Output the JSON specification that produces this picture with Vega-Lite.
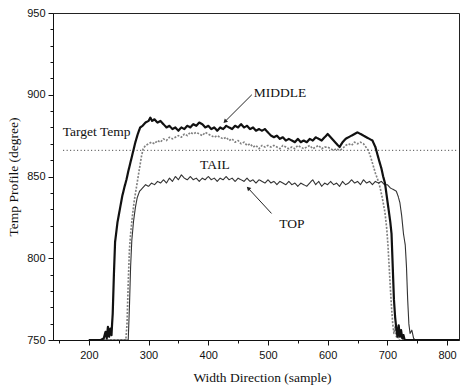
{
  "$schema": "https://vega.github.io/schema/vega-lite/v6.json",
  "autosize": "none",
  "width": 406,
  "height": 327,
  "padding": {"left": 53, "top": 13, "right": 1, "bottom": 48},
  "background": "white",
  "config": {
    "view": {"stroke": "#222", "strokeWidth": 1},
    "axis": {"grid": false, "domainColor": "#111", "tickColor": "#111", "labelColor": "#111", "titleColor": "#111", "labelFont": "Liberation Sans", "labelFontSize": 11, "titleFont": "Liberation Serif", "titleFontSize": 13.5, "titleFontWeight": "normal", "labelOverlap": false, "labelBound": false}
  },
  "datasets": {
    "curves": [
      {"s":"TAIL","x":200,"y":750},{"s":"TAIL","x":220,"y":750},{"s":"TAIL","x":240,"y":750},{"s":"TAIL","x":255,"y":750},{"s":"TAIL","x":262,"y":750},{"s":"TAIL","x":264,"y":760},{"s":"TAIL","x":266,"y":785},{"s":"TAIL","x":268,"y":805},{"s":"TAIL","x":270,"y":815},{"s":"TAIL","x":273,"y":826},{"s":"TAIL","x":276,"y":835},{"s":"TAIL","x":280,"y":844},{"s":"TAIL","x":284,"y":853},{"s":"TAIL","x":288,"y":862},{"s":"TAIL","x":291,"y":867},{"s":"TAIL","x":295,"y":869},{"s":"TAIL","x":300,"y":870},{"s":"TAIL","x":305,"y":871},{"s":"TAIL","x":310,"y":870},{"s":"TAIL","x":315,"y":872},{"s":"TAIL","x":320,"y":871},{"s":"TAIL","x":325,"y":873},{"s":"TAIL","x":330,"y":872},{"s":"TAIL","x":335,"y":874},{"s":"TAIL","x":340,"y":873},{"s":"TAIL","x":345,"y":874},{"s":"TAIL","x":350,"y":875},{"s":"TAIL","x":355,"y":874},{"s":"TAIL","x":360,"y":876},{"s":"TAIL","x":365,"y":875},{"s":"TAIL","x":370,"y":877},{"s":"TAIL","x":375,"y":876},{"s":"TAIL","x":380,"y":877},{"s":"TAIL","x":385,"y":876},{"s":"TAIL","x":390,"y":875},{"s":"TAIL","x":395,"y":877},{"s":"TAIL","x":400,"y":876},{"s":"TAIL","x":405,"y":875},{"s":"TAIL","x":410,"y":874},{"s":"TAIL","x":415,"y":875},{"s":"TAIL","x":420,"y":874},{"s":"TAIL","x":425,"y":873},{"s":"TAIL","x":430,"y":874},{"s":"TAIL","x":435,"y":872},{"s":"TAIL","x":440,"y":873},{"s":"TAIL","x":445,"y":871},{"s":"TAIL","x":450,"y":872},{"s":"TAIL","x":455,"y":870},{"s":"TAIL","x":460,"y":871},{"s":"TAIL","x":465,"y":869},{"s":"TAIL","x":470,"y":870},{"s":"TAIL","x":475,"y":868},{"s":"TAIL","x":480,"y":869},{"s":"TAIL","x":485,"y":867},{"s":"TAIL","x":490,"y":869},{"s":"TAIL","x":495,"y":868},{"s":"TAIL","x":500,"y":869},{"s":"TAIL","x":505,"y":868},{"s":"TAIL","x":510,"y":869},{"s":"TAIL","x":515,"y":868},{"s":"TAIL","x":520,"y":867},{"s":"TAIL","x":525,"y":869},{"s":"TAIL","x":530,"y":868},{"s":"TAIL","x":535,"y":867},{"s":"TAIL","x":540,"y":868},{"s":"TAIL","x":545,"y":867},{"s":"TAIL","x":550,"y":869},{"s":"TAIL","x":555,"y":868},{"s":"TAIL","x":560,"y":867},{"s":"TAIL","x":565,"y":868},{"s":"TAIL","x":570,"y":869},{"s":"TAIL","x":575,"y":867},{"s":"TAIL","x":580,"y":868},{"s":"TAIL","x":585,"y":869},{"s":"TAIL","x":590,"y":867},{"s":"TAIL","x":595,"y":868},{"s":"TAIL","x":600,"y":868},{"s":"TAIL","x":605,"y":867},{"s":"TAIL","x":610,"y":866},{"s":"TAIL","x":615,"y":867},{"s":"TAIL","x":620,"y":866},{"s":"TAIL","x":625,"y":867},{"s":"TAIL","x":630,"y":869},{"s":"TAIL","x":635,"y":870},{"s":"TAIL","x":640,"y":869},{"s":"TAIL","x":645,"y":871},{"s":"TAIL","x":650,"y":870},{"s":"TAIL","x":655,"y":871},{"s":"TAIL","x":660,"y":870},{"s":"TAIL","x":664,"y":868},{"s":"TAIL","x":668,"y":866},{"s":"TAIL","x":672,"y":862},{"s":"TAIL","x":676,"y":857},{"s":"TAIL","x":680,"y":852},{"s":"TAIL","x":684,"y":848},{"s":"TAIL","x":688,"y":843},{"s":"TAIL","x":692,"y":836},{"s":"TAIL","x":696,"y":828},{"s":"TAIL","x":699,"y":818},{"s":"TAIL","x":701,"y":808},{"s":"TAIL","x":703,"y":795},{"s":"TAIL","x":705,"y":782},{"s":"TAIL","x":707,"y":770},{"s":"TAIL","x":709,"y":760},{"s":"TAIL","x":711,"y":754},{"s":"TAIL","x":713,"y":758},{"s":"TAIL","x":715,"y":752},{"s":"TAIL","x":717,"y":755},{"s":"TAIL","x":719,"y":750},{"s":"TAIL","x":740,"y":750},{"s":"TAIL","x":780,"y":750},{"s":"TAIL","x":820,"y":750},
      {"s":"TOP","x":200,"y":750},{"s":"TOP","x":220,"y":750},{"s":"TOP","x":240,"y":750},{"s":"TOP","x":260,"y":750},{"s":"TOP","x":266,"y":750},{"s":"TOP","x":268,"y":770},{"s":"TOP","x":270,"y":795},{"s":"TOP","x":272,"y":811},{"s":"TOP","x":275,"y":823},{"s":"TOP","x":278,"y":831},{"s":"TOP","x":281,"y":837},{"s":"TOP","x":285,"y":841},{"s":"TOP","x":290,"y":843},{"s":"TOP","x":295,"y":845},{"s":"TOP","x":300,"y":844},{"s":"TOP","x":305,"y":846},{"s":"TOP","x":310,"y":845},{"s":"TOP","x":315,"y":847},{"s":"TOP","x":320,"y":846},{"s":"TOP","x":325,"y":848},{"s":"TOP","x":330,"y":846},{"s":"TOP","x":335,"y":849},{"s":"TOP","x":340,"y":847},{"s":"TOP","x":345,"y":850},{"s":"TOP","x":350,"y":848},{"s":"TOP","x":355,"y":851},{"s":"TOP","x":360,"y":849},{"s":"TOP","x":365,"y":848},{"s":"TOP","x":370,"y":850},{"s":"TOP","x":375,"y":848},{"s":"TOP","x":380,"y":849},{"s":"TOP","x":385,"y":847},{"s":"TOP","x":390,"y":849},{"s":"TOP","x":395,"y":848},{"s":"TOP","x":400,"y":850},{"s":"TOP","x":405,"y":848},{"s":"TOP","x":410,"y":849},{"s":"TOP","x":415,"y":847},{"s":"TOP","x":420,"y":849},{"s":"TOP","x":425,"y":848},{"s":"TOP","x":430,"y":850},{"s":"TOP","x":435,"y":848},{"s":"TOP","x":440,"y":849},{"s":"TOP","x":445,"y":847},{"s":"TOP","x":450,"y":849},{"s":"TOP","x":455,"y":848},{"s":"TOP","x":460,"y":847},{"s":"TOP","x":465,"y":849},{"s":"TOP","x":470,"y":847},{"s":"TOP","x":475,"y":848},{"s":"TOP","x":480,"y":846},{"s":"TOP","x":485,"y":848},{"s":"TOP","x":490,"y":847},{"s":"TOP","x":495,"y":846},{"s":"TOP","x":500,"y":848},{"s":"TOP","x":505,"y":846},{"s":"TOP","x":510,"y":847},{"s":"TOP","x":515,"y":845},{"s":"TOP","x":520,"y":847},{"s":"TOP","x":525,"y":846},{"s":"TOP","x":530,"y":845},{"s":"TOP","x":535,"y":847},{"s":"TOP","x":540,"y":845},{"s":"TOP","x":545,"y":846},{"s":"TOP","x":550,"y":844},{"s":"TOP","x":555,"y":846},{"s":"TOP","x":560,"y":845},{"s":"TOP","x":565,"y":844},{"s":"TOP","x":570,"y":846},{"s":"TOP","x":575,"y":848},{"s":"TOP","x":580,"y":845},{"s":"TOP","x":585,"y":847},{"s":"TOP","x":590,"y":844},{"s":"TOP","x":595,"y":846},{"s":"TOP","x":600,"y":845},{"s":"TOP","x":605,"y":847},{"s":"TOP","x":610,"y":845},{"s":"TOP","x":615,"y":846},{"s":"TOP","x":620,"y":844},{"s":"TOP","x":625,"y":847},{"s":"TOP","x":630,"y":845},{"s":"TOP","x":635,"y":846},{"s":"TOP","x":640,"y":848},{"s":"TOP","x":645,"y":846},{"s":"TOP","x":650,"y":847},{"s":"TOP","x":655,"y":845},{"s":"TOP","x":660,"y":848},{"s":"TOP","x":665,"y":846},{"s":"TOP","x":670,"y":847},{"s":"TOP","x":675,"y":845},{"s":"TOP","x":680,"y":847},{"s":"TOP","x":685,"y":846},{"s":"TOP","x":690,"y":847},{"s":"TOP","x":695,"y":845},{"s":"TOP","x":700,"y":845},{"s":"TOP","x":705,"y":843},{"s":"TOP","x":710,"y":842},{"s":"TOP","x":715,"y":841},{"s":"TOP","x":718,"y":838},{"s":"TOP","x":721,"y":834},{"s":"TOP","x":724,"y":826},{"s":"TOP","x":727,"y":815},{"s":"TOP","x":730,"y":808},{"s":"TOP","x":732,"y":795},{"s":"TOP","x":734,"y":775},{"s":"TOP","x":736,"y":760},{"s":"TOP","x":738,"y":754},{"s":"TOP","x":741,"y":756},{"s":"TOP","x":744,"y":751},{"s":"TOP","x":747,"y":750},{"s":"TOP","x":780,"y":750},{"s":"TOP","x":820,"y":750},
      {"s":"MIDDLE","x":200,"y":750},{"s":"MIDDLE","x":210,"y":750},{"s":"MIDDLE","x":220,"y":750},{"s":"MIDDLE","x":225,"y":751},{"s":"MIDDLE","x":228,"y":755},{"s":"MIDDLE","x":230,"y":751},{"s":"MIDDLE","x":232,"y":758},{"s":"MIDDLE","x":234,"y":752},{"s":"MIDDLE","x":236,"y":757},{"s":"MIDDLE","x":238,"y":753},{"s":"MIDDLE","x":239,"y":760},{"s":"MIDDLE","x":240,"y":766},{"s":"MIDDLE","x":242,"y":790},{"s":"MIDDLE","x":244,"y":810},{"s":"MIDDLE","x":246,"y":816},{"s":"MIDDLE","x":248,"y":822},{"s":"MIDDLE","x":250,"y":826},{"s":"MIDDLE","x":252,"y":830},{"s":"MIDDLE","x":254,"y":834},{"s":"MIDDLE","x":256,"y":838},{"s":"MIDDLE","x":258,"y":841},{"s":"MIDDLE","x":260,"y":844},{"s":"MIDDLE","x":263,"y":848},{"s":"MIDDLE","x":266,"y":853},{"s":"MIDDLE","x":270,"y":859},{"s":"MIDDLE","x":274,"y":865},{"s":"MIDDLE","x":278,"y":871},{"s":"MIDDLE","x":282,"y":876},{"s":"MIDDLE","x":286,"y":880},{"s":"MIDDLE","x":290,"y":881},{"s":"MIDDLE","x":295,"y":883},{"s":"MIDDLE","x":300,"y":884},{"s":"MIDDLE","x":303,"y":886},{"s":"MIDDLE","x":306,"y":884},{"s":"MIDDLE","x":310,"y":885},{"s":"MIDDLE","x":315,"y":883},{"s":"MIDDLE","x":320,"y":884},{"s":"MIDDLE","x":325,"y":882},{"s":"MIDDLE","x":330,"y":880},{"s":"MIDDLE","x":335,"y":881},{"s":"MIDDLE","x":340,"y":879},{"s":"MIDDLE","x":345,"y":880},{"s":"MIDDLE","x":350,"y":878},{"s":"MIDDLE","x":355,"y":880},{"s":"MIDDLE","x":360,"y":879},{"s":"MIDDLE","x":365,"y":881},{"s":"MIDDLE","x":370,"y":880},{"s":"MIDDLE","x":375,"y":882},{"s":"MIDDLE","x":380,"y":881},{"s":"MIDDLE","x":385,"y":883},{"s":"MIDDLE","x":390,"y":882},{"s":"MIDDLE","x":395,"y":880},{"s":"MIDDLE","x":400,"y":881},{"s":"MIDDLE","x":405,"y":879},{"s":"MIDDLE","x":410,"y":880},{"s":"MIDDLE","x":415,"y":878},{"s":"MIDDLE","x":420,"y":880},{"s":"MIDDLE","x":425,"y":879},{"s":"MIDDLE","x":430,"y":881},{"s":"MIDDLE","x":435,"y":880},{"s":"MIDDLE","x":440,"y":879},{"s":"MIDDLE","x":445,"y":881},{"s":"MIDDLE","x":450,"y":880},{"s":"MIDDLE","x":455,"y":882},{"s":"MIDDLE","x":460,"y":880},{"s":"MIDDLE","x":465,"y":881},{"s":"MIDDLE","x":470,"y":879},{"s":"MIDDLE","x":475,"y":880},{"s":"MIDDLE","x":480,"y":878},{"s":"MIDDLE","x":485,"y":879},{"s":"MIDDLE","x":490,"y":878},{"s":"MIDDLE","x":495,"y":879},{"s":"MIDDLE","x":500,"y":877},{"s":"MIDDLE","x":505,"y":875},{"s":"MIDDLE","x":510,"y":874},{"s":"MIDDLE","x":515,"y":875},{"s":"MIDDLE","x":520,"y":873},{"s":"MIDDLE","x":525,"y":874},{"s":"MIDDLE","x":530,"y":872},{"s":"MIDDLE","x":535,"y":873},{"s":"MIDDLE","x":540,"y":872},{"s":"MIDDLE","x":545,"y":871},{"s":"MIDDLE","x":550,"y":873},{"s":"MIDDLE","x":555,"y":871},{"s":"MIDDLE","x":560,"y":872},{"s":"MIDDLE","x":565,"y":871},{"s":"MIDDLE","x":570,"y":873},{"s":"MIDDLE","x":575,"y":872},{"s":"MIDDLE","x":580,"y":874},{"s":"MIDDLE","x":585,"y":873},{"s":"MIDDLE","x":590,"y":872},{"s":"MIDDLE","x":595,"y":874},{"s":"MIDDLE","x":600,"y":876},{"s":"MIDDLE","x":605,"y":874},{"s":"MIDDLE","x":610,"y":872},{"s":"MIDDLE","x":615,"y":870},{"s":"MIDDLE","x":620,"y":868},{"s":"MIDDLE","x":625,"y":871},{"s":"MIDDLE","x":630,"y":873},{"s":"MIDDLE","x":635,"y":874},{"s":"MIDDLE","x":640,"y":875},{"s":"MIDDLE","x":645,"y":876},{"s":"MIDDLE","x":650,"y":877},{"s":"MIDDLE","x":655,"y":876},{"s":"MIDDLE","x":660,"y":875},{"s":"MIDDLE","x":665,"y":874},{"s":"MIDDLE","x":670,"y":873},{"s":"MIDDLE","x":675,"y":872},{"s":"MIDDLE","x":680,"y":868},{"s":"MIDDLE","x":683,"y":864},{"s":"MIDDLE","x":686,"y":860},{"s":"MIDDLE","x":690,"y":855},{"s":"MIDDLE","x":693,"y":850},{"s":"MIDDLE","x":696,"y":846},{"s":"MIDDLE","x":699,"y":838},{"s":"MIDDLE","x":702,"y":830},{"s":"MIDDLE","x":705,"y":822},{"s":"MIDDLE","x":707,"y":815},{"s":"MIDDLE","x":708,"y":805},{"s":"MIDDLE","x":709,"y":795},{"s":"MIDDLE","x":710,"y":785},{"s":"MIDDLE","x":711,"y":775},{"s":"MIDDLE","x":713,"y":764},{"s":"MIDDLE","x":715,"y":757},{"s":"MIDDLE","x":717,"y":752},{"s":"MIDDLE","x":719,"y":759},{"s":"MIDDLE","x":721,"y":752},{"s":"MIDDLE","x":723,"y":756},{"s":"MIDDLE","x":725,"y":751},{"s":"MIDDLE","x":727,"y":753},{"s":"MIDDLE","x":729,"y":750},{"s":"MIDDLE","x":760,"y":750},{"s":"MIDDLE","x":820,"y":750}
    ],
    "target": [{"x": 157, "x2": 818, "y": 866}],
    "labels": [
      {"label": "MIDDLE", "x": 520, "y": 901},
      {"label": "Target Temp", "x": 213, "y": 877},
      {"label": "TAIL", "x": 411, "y": 857},
      {"label": "TOP", "x": 540, "y": 821}
    ],
    "arrows": [
      {"label": "MIDDLE", "x": 473, "y": 900, "x2": 428, "y2": 883.6},
      {"label": "TOP", "x": 506, "y": 827.4, "x2": 467, "y2": 842.8}
    ]
  },
  "encoding": {
    "x": {"type": "quantitative", "field": "x", "scale": {"domain": [140, 820], "nice": false, "zero": false},
      "axis": {"title": "Width Direction (sample)", "values": [150,200,250,300,350,400,450,500,550,600,650,700,750,800],
        "labelExpr": "datum.value % 100 === 0 ? datum.label : ''",
        "tickSize": {"condition": {"test": "datum.value % 100 === 0", "value": 5}, "value": 3},
        "labelPadding": 4, "titlePadding": 10, "titleX": 209}},
    "y": {"type": "quantitative", "field": "y", "scale": {"domain": [750, 950], "nice": false, "zero": false},
      "axis": {"title": "Temp Profile (degree)", "values": [750,760,770,780,790,800,810,820,830,840,850,860,870,880,890,900,910,920,930,940,950],
        "labelExpr": "datum.value % 50 === 0 ? datum.label : ''",
        "tickSize": {"condition": {"test": "datum.value % 50 === 0", "value": 5}, "value": 3},
        "labelPadding": 3, "titlePadding": 6}}
  },
  "layer": [
    {
      "data": {"name": "target"},
      "mark": {"type": "rule", "strokeDash": [1, 2.5], "color": "#333", "strokeWidth": 1},
      "encoding": {"x2": {"field": "x2"}}
    },
    {
      "data": {"name": "curves"},
      "mark": {"type": "line", "clip": true, "strokeJoin": "round"},
      "encoding": {
        "detail": {"field": "s", "type": "nominal"},
        "color": {"field": "s", "type": "nominal", "scale": {"domain": ["MIDDLE", "TAIL", "TOP"], "range": ["#111111", "#808080", "#333333"]}, "legend": null},
        "strokeWidth": {"field": "s", "type": "nominal", "scale": {"domain": ["MIDDLE", "TAIL", "TOP"], "range": [2.2, 1.1, 0.9]}, "legend": null},
        "strokeDash": {"field": "s", "type": "nominal", "scale": {"domain": ["MIDDLE", "TAIL", "TOP"], "range": [[1, 0], [2, 1.5], [1, 0]]}, "legend": null}
      }
    },
    {
      "data": {"name": "labels"},
      "mark": {"type": "text", "font": "Liberation Serif", "fontSize": 13.5, "color": "#111"},
      "encoding": {"text": {"field": "label"}}
    },
    {
      "data": {"name": "arrows"},
      "mark": {"type": "rule", "color": "#222", "strokeWidth": 1},
      "encoding": {"x2": {"field": "x2"}, "y2": {"field": "y2"}}
    },
    {
      "data": {"name": "arrows"},
      "transform": [{"filter": "datum.label === 'MIDDLE'"}],
      "mark": {"type": "point", "shape": "triangle-up", "filled": true, "color": "#222", "size": 22, "angle": 225, "opacity": 1},
      "encoding": {"x": {"field": "x2", "type": "quantitative"}, "y": {"field": "y2", "type": "quantitative"}}
    },
    {
      "data": {"name": "arrows"},
      "transform": [{"filter": "datum.label === 'TOP'"}],
      "mark": {"type": "point", "shape": "triangle-up", "filled": true, "color": "#222", "size": 22, "angle": 315, "opacity": 1},
      "encoding": {"x": {"field": "x2", "type": "quantitative"}, "y": {"field": "y2", "type": "quantitative"}}
    }
  ]
}
